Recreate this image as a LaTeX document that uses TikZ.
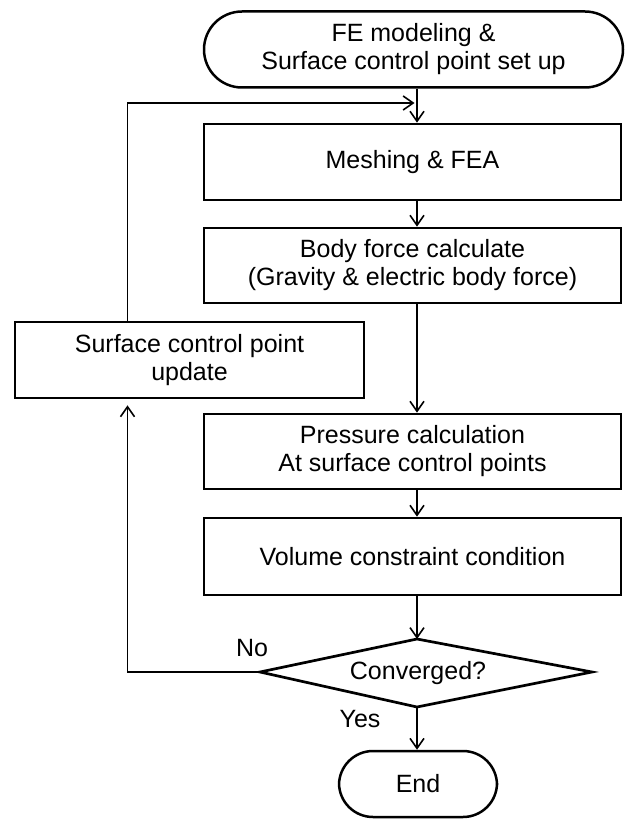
\documentclass[tikz,border=0pt]{standalone}
\usepackage{fontspec}
\setmainfont{Liberation Sans}
\usetikzlibrary{arrows.meta,calc}
\begin{document}
\begin{tikzpicture}[x=1pt,y=-1pt,
  every node/.style={font=\fontsize{25}{28}\selectfont, inner sep=0pt, align=center},
  procbox/.style={draw, line width=2.7pt, rectangle, minimum height=76pt},
  mainbox/.style={procbox, minimum width=417pt},
  termbox/.style={draw, line width=2.5pt, rectangle, rounded corners=#1},
  conn/.style={line width=1.6pt},
  arr/.style={conn, -{Straight Barb[length=10pt,width=14pt,line width=1.6pt]}},
  lbl/.style={}
]
\useasboundingbox (0,0) rectangle (625,821);

\node[termbox=38pt, minimum width=419pt, minimum height=76pt] (start) at (413.5,49.5)
  {FE modeling \&\\Surface control point set up};
\node[mainbox] (mesh) at (412.5,162) {Meshing \& FEA};
\node[mainbox, minimum height=75pt] (body) at (412.5,265.5)
  {Body force calculate\\(Gravity \& electric body force)};
\node[procbox, minimum width=349pt] (update) at (189.5,360)
  {Surface control point\\update};
\node[mainbox, minimum height=75pt] (press) at (412.5,451.5)
  {Pressure calculation\\At surface control points};
\node[mainbox, minimum height=77pt] (vol) at (412.5,556.5)
  {Volume constraint condition};

% decision diamond
\coordinate (dl) at (260,672);
\coordinate (dt) at (417,639);
\coordinate (dr) at (592,672);
\coordinate (db) at (417,707);
\draw[line width=2.7pt, line join=miter] (dl) -- (dt) -- (dr) -- (db) -- cycle;
\node (conv) at (418,673) {Converged?};

\node[termbox=34pt, minimum width=158pt, minimum height=66pt] (end) at (418,784) {End};

\node[lbl] (no) at (252,648) {No};
\node[lbl] (yes) at (360,719) {Yes};

% main flow
\draw[arr] (start.south -| dt) -- (mesh.north -| dt);
\draw[arr] (mesh.south -| dt) -- (body.north -| dt);
\draw[arr] (body.south -| dt) -- (press.north -| dt);
\draw[arr] (press.south -| dt) -- (vol.north -| dt);
\draw[arr] (vol.south -| dt) -- (dt);
\draw[arr] (db) -- (end.north -| db);

% feedback loop
\coordinate (lx) at (127.5,0);
\coordinate (fb) at (416.5,103);
\draw[arr] (dl) -- (dl -| lx) -- ($(update.south -| lx)+(0,6)$);
\draw[arr] (update.north -| lx) -- (lx |- fb) -- ($(fb)+(-2,0)$);
\end{tikzpicture}
\end{document}
